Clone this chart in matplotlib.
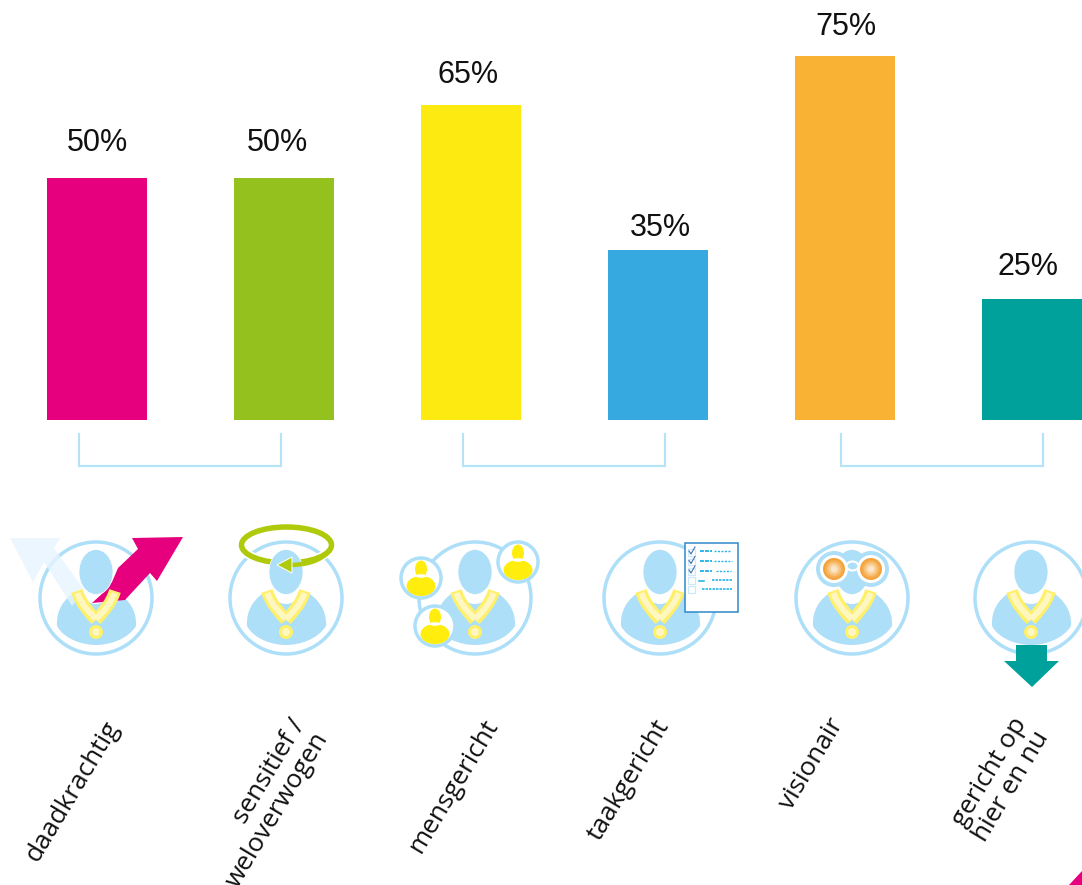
import matplotlib
matplotlib.use('Agg')
import matplotlib.pyplot as plt
from matplotlib.patches import Circle, Ellipse, Polygon, PathPatch, Rectangle
from matplotlib.path import Path

W, H = 1082, 885

categories = ['daadkrachtig', 'sensitief /\nweloverwogen', 'mensgericht',
              'taakgericht', 'visionair', 'gericht op\nhier en nu']
values = [50, 50, 65, 35, 75, 25]
value_labels = ['50%', '50%', '65%', '35%', '75%', '25%']
colors = ['#e6007e', '#95c11f', '#fdea10', '#36a9e1', '#f9b233', '#00a19a']
bracket_pairs = [(0, 1), (2, 3), (4, 5)]

LIGHT = '#aedff9'
PALE = '#fff7bf'
GOLD = '#fff06a'
px = 0.72  # one pixel in points at dpi 100

fig = plt.figure(figsize=(W / 100, H / 100), dpi=100)

# bars, positioned so that 1% is 4.85 px and the bars sit 187 px apart
base_px = 420
ax = fig.add_axes([0, 1 - base_px / H, 1, base_px / H])
ax.set_xlim(-97 / 187, (W - 97) / 187)
ax.set_ylim(0, base_px / 4.85)
ax.axis('off')
xpos = list(range(len(values)))
ax.bar(xpos, values, width=0.535, color=colors)

# the labels are not quite centred on the bars in the original
nudge_x = [0, -7, -3, 2, 1, -4]
nudge_y = [35, 35, 30, 22, 29, 32]
for i in xpos:
    ax.annotate(value_labels[i], (xpos[i], values[i]),
                xytext=(nudge_x[i] * px, nudge_y[i] * px), textcoords='offset points',
                ha='center', va='center', fontsize=22, family='Liberation Sans',
                color='#111111')

# everything below the bars is drawn in pixel coordinates
ov = fig.add_axes([0, 0, 1, 1])
ov.set_xlim(0, W)
ov.set_ylim(H, 0)
ov.axis('off')
ov.patch.set_alpha(0)


def bracket(x0, x1):
    ov.plot([x0, x0, x1, x1], [434, 466, 466, 434], color='#b7e3f8', lw=2.2 * px,
            solid_joinstyle='miter')


def body_path(cx, cy):
    pts = [(-39, 28), (-40, 12), (-32, 1), (-21, -6),
           (-14, 2), (-6, 6), (0, 6), (6, 6), (14, 2), (21, -6),
           (32, 1), (41, 12), (40, 28),
           (32, 41), (14, 47), (0, 47), (-14, 47), (-32, 41), (-39, 28)]
    codes = [Path.MOVETO] + [Path.CURVE4] * (len(pts) - 1)
    return Path([(cx + a, cy + b) for a, b in pts], codes)


def leader(cx, cy=598):
    ov.add_patch(Circle((cx, cy), 56, fc='white', ec=LIGHT, lw=3.5 * px, zorder=2))
    ov.add_patch(PathPatch(body_path(cx, cy), fc=LIGHT, ec='none', zorder=2.5))
    ov.add_patch(Ellipse((cx, cy - 26), 34, 45, fc=LIGHT, ec='white', lw=0.5, zorder=4))
    # medal ribbon
    for side in (-1, 1):
        verts = [(cx + side * 19, cy - 7), (cx + side * 15, cy + 6), (cx + side * 7, cy + 14), (cx, cy + 22)]
        ribbon = Path(verts, [Path.MOVETO, Path.CURVE4, Path.CURVE4, Path.CURVE4])
        ov.add_patch(PathPatch(ribbon, fc='none', ec=GOLD, lw=12 * px, capstyle='butt', zorder=5))
    for side in (-1, 1):
        verts = [(cx + side * 18.5, cy - 5), (cx + side * 15, cy + 6), (cx + side * 7, cy + 14), (cx, cy + 21)]
        ribbon = Path(verts, [Path.MOVETO, Path.CURVE4, Path.CURVE4, Path.CURVE4])
        ov.add_patch(PathPatch(ribbon, fc='none', ec=PALE, lw=6 * px, capstyle='butt', zorder=5.1))
    ov.add_patch(Circle((cx, cy + 34), 5.5, fc=PALE, ec=GOLD, lw=3 * px, zorder=5.2))


def small_person(cx, cy):
    ov.add_patch(Circle((cx, cy), 20, fc='white', ec=LIGHT, lw=3.5 * px, zorder=6))
    ov.add_patch(Ellipse((cx, cy - 9), 12, 17, fc='#ffed0d', ec='none', zorder=6.1))
    ov.add_patch(Ellipse((cx, cy + 8), 29, 20, fc='#ffed0d', ec='none', zorder=6.1))
    ov.add_patch(Ellipse((cx, cy - 2), 11, 3.5, fc='white', ec='none', zorder=6.15))


# 1 daadkrachtig
leader(96)
ov.add_patch(Polygon([(10, 538), (60, 538), (54, 548), (84, 590), (72, 606), (44, 562), (33, 582)],
                     fc='#e6f4fe', ec='none', alpha=0.8, zorder=3))
ov.add_patch(Polygon([(183, 537), (132, 538), (138, 549), (118, 568), (112, 582), (104, 592), (92, 603),
                      (125, 600), (150, 573), (157, 581)],
                     fc='#e6007e', ec='none', zorder=3))

# 2 sensitief / weloverwogen
leader(286)
ov.add_patch(Ellipse((286.5, 545), 90, 36, fc='none', ec='white', lw=9 * px, zorder=3))
ov.add_patch(Ellipse((286.5, 545), 90, 36, fc='none', ec='#afca0b', lw=5.5 * px, zorder=3.1))
front = Path([(330, 550), (320, 562), (305, 565), (288, 565)],
             [Path.MOVETO, Path.CURVE4, Path.CURVE4, Path.CURVE4])
ov.add_patch(PathPatch(front, fc='none', ec='#afca0b', lw=4.5 * px, capstyle='butt', zorder=6))
ov.add_patch(Polygon([(277, 565), (292, 557), (292, 573)], fc='#afca0b', ec='white', lw=0.7, zorder=6.1))

# 3 mensgericht
leader(475)
small_person(421, 578)
small_person(518, 562)
small_person(435, 626)

# 4 taakgericht
leader(660)
ov.add_patch(Rectangle((685, 543), 53, 69, fc='white', ec='#2a86c8', lw=1.5 * px, zorder=6))
for i, cy in enumerate([552, 561.5, 571, 580, 589]):
    ov.add_patch(Rectangle((688, cy - 3), 6.5, 6.5, fc='white', ec='#cbe9f9', lw=1.2 * px, zorder=6.1))
    if i < 3:
        ov.plot([689, 691, 695], [cy - 1, cy + 2, cy - 5], color='#3f6fb0', lw=0.8, zorder=6.2)
ov.plot([700, 712], [551, 551], color='#29b5e8', lw=1.4, ls=(0, (2, 0.6)), zorder=6.2)
ov.plot([714, 731], [551, 551], color='#29b5e8', lw=1.0, ls=(0, (1.5, 1)), zorder=6.2)
ov.plot([700, 712], [561, 561], color='#29b5e8', lw=1.4, ls=(0, (2, 0.6)), zorder=6.2)
ov.plot([714, 732], [561, 561], color='#29b5e8', lw=1.0, ls=(0, (1.5, 1)), zorder=6.2)
ov.plot([700, 712], [571, 571], color='#29b5e8', lw=1.4, ls=(0, (2, 0.6)), zorder=6.2)
ov.plot([716, 731], [571, 571], color='#29b5e8', lw=1.0, ls=(0, (1.5, 1)), zorder=6.2)
ov.plot([699, 704], [581, 581], color='#29b5e8', lw=1.2, zorder=6.2)
ov.plot([712, 732], [580, 580], color='#29b5e8', lw=1.2, ls=(0, (1.5, 0.6)), zorder=6.2)
ov.plot([702, 732], [589, 589], color='#29b5e8', lw=1.2, ls=(0, (1.5, 0.6)), zorder=6.2)

# 5 visionair
leader(852)
for gx in (834, 871):
    ov.add_patch(Circle((gx, 569), 18, fc=LIGHT, ec='none', zorder=5.5))
    ov.add_patch(Circle((gx, 569), 14, fc='white', ec='none', zorder=5.6))
    for r, c in zip([11, 9, 7, 5, 3], ['#f4a23c', '#f6b053', '#f8c27a', '#fad5a4', '#fce6cb']):
        ov.add_patch(Circle((gx, 569), r, fc=c, ec='none', zorder=5.7))
ov.add_patch(Ellipse((852.5, 566), 12, 9, fc=LIGHT, ec='white', lw=1.5, zorder=5.65))

# 6 gericht op hier en nu
leader(1031)
ov.add_patch(Polygon([(1016, 645), (1047, 645), (1047, 661), (1059, 661), (1032, 687), (1004, 661), (1016, 661)],
                     fc='#00a19a', ec='none', zorder=7))

# corner of a pink shape cut off by the image edge
ov.add_patch(Polygon([(1069, 885), (1082, 871), (1082, 885)], fc='#e6007e', ec='none', zorder=3))

for a, b in bracket_pairs:
    x0, x1 = {0: (79, 281), 2: (463, 665), 4: (841, 1043)}[a]
    bracket(x0, x1)

label_centres = [(73, 791), (266, 803), (454, 786), (629, 780), (812, 764), (1000, 780)]
for name, (lx, ly) in zip(categories, label_centres):
    ov.text(lx, ly, name, rotation=59, rotation_mode='anchor', ha='center', va='center', ma='right',
            fontsize=18.8, family='Open Sans', color='#111111', linespacing=1.05, clip_on=False)

fig.savefig('out.png', dpi=100)
